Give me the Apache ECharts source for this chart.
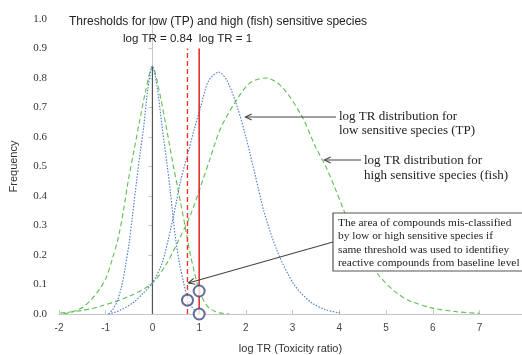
<!DOCTYPE html>
<html><head><meta charset="utf-8">
<script src="https://cdn.jsdelivr.net/npm/echarts@6/dist/echarts.min.js"></script>
<style>html,body{margin:0;padding:0;background:#fff}#c{width:522px;height:355px}</style>
</head><body><div id="c"></div>
<script>
// ---- data ----
const blueNarrow = [[-0.94,0],[-0.85,0.015],[-0.75,0.045],[-0.65,0.1],[-0.58,0.16],[-0.5,0.24],[-0.43,0.33],[-0.34,0.45],[-0.26,0.55],[-0.19,0.63],[-0.1,0.76],[0,0.84],[0.1,0.77],[0.21,0.63],[0.31,0.51],[0.38,0.42],[0.44,0.33],[0.5,0.25],[0.58,0.17],[0.67,0.105],[0.74,0.06],[0.82,0.03],[0.92,0.01],[1.02,0]];
const greenNarrow = [[-1.9,0],[-1.7,0.008],[-1.5,0.022],[-1.33,0.045],[-1.15,0.08],[-1.0,0.12],[-0.87,0.18],[-0.73,0.26],[-0.62,0.35],[-0.52,0.45],[-0.4,0.55],[-0.28,0.65],[-0.14,0.76],[0,0.84],[0.14,0.76],[0.3,0.63],[0.45,0.5],[0.6,0.38],[0.72,0.28],[0.8,0.21],[0.9,0.14],[1.0,0.08],[1.1,0.045],[1.2,0.022],[1.35,0.008],[1.5,0.002],[1.65,0]];
const blueWide = [[-0.94,0],[-0.7,0.012],[-0.4,0.04],[-0.2,0.07],[0,0.105],[0.2,0.17],[0.35,0.26],[0.5,0.37],[0.6,0.45],[0.75,0.54],[0.9,0.63],[1.03,0.7],[1.2,0.79],[1.42,0.82],[1.6,0.79],[1.82,0.7],[2.0,0.6],[2.2,0.47],[2.4,0.34],[2.68,0.21],[3.03,0.1],[3.39,0.04],[3.7,0.015],[4.03,0.003]];
const greenWide = [[-1.97,0.003],[-1.5,0.012],[-1.12,0.026],[-0.5,0.06],[0,0.105],[0.3,0.17],[0.56,0.25],[0.8,0.33],[1.07,0.45],[1.24,0.53],[1.46,0.63],[1.82,0.73],[2.1,0.785],[2.43,0.8],[2.77,0.77],[3.2,0.67],[3.48,0.57],[3.71,0.5],[3.9,0.43],[4.1,0.35],[4.4,0.24],[4.85,0.13],[5.2,0.075],[5.5,0.045],[6.0,0.02],[6.5,0.008],[7.0,0.002]];
const zeroLine = [[0,0],[0,0.84]];
const thresholdLow = [[0.75,0],[0.75,0.9]];   // dashed red
const thresholdHigh = [[1.0,0],[1.0,0.9]];    // solid red
const circles = [[0.75,0.047],[1.0,0.078],[1.0,0.0]];
const xTicks = [-2,-1,0,1,2,3,4,5,6,7];
const yTicks = [0,0.1,0.2,0.3,0.4,0.5,0.6,0.7,0.8,0.9,1.0];

const chart = echarts.init(document.getElementById('c'), null, {renderer:'canvas'});
const serif = '"Liberation Serif","DejaVu Serif",serif';
const sans = '"Liberation Sans",Arial,sans-serif';
const curve = (data, color, type) => ({type:'line', data, smooth:0.3, showSymbol:false, silent:true,
  lineStyle:{color, width:1.1, type}, z:3});
const option = {
  animation:false,
  grid:{left:59, right:0, top:19, bottom:41, containLabel:false, outerBoundsMode:'none'},
  xAxis:{type:'value', min:-2, max:7.91, interval:1,
    axisLine:{lineStyle:{color:'#c8c8c8'}},
    axisTick:{show:true, inside:true, length:4, lineStyle:{color:'#c8c8c8'}},
    splitLine:{show:false},
    axisLabel:{color:'#444', fontFamily:sans, fontSize:10, margin:9, showMaxLabel:false,
      formatter:v => xTicks.includes(Math.round(v*1000)/1000) ? String(v) : ''},
    name:'log TR (Toxicity ratio)', nameLocation:'middle', nameGap:29,
    nameTextStyle:{color:'#333', fontFamily:sans, fontSize:11}},
  yAxis:{type:'value', min:0, max:1, interval:0.1,
    axisLine:{show:true, lineStyle:{color:'#c8c8c8'}},
    axisTick:{show:true, length:4, lineStyle:{color:'#c8c8c8'}},
    splitLine:{show:false},
    axisLabel:{color:'#333', fontFamily:serif, fontSize:11, margin:12,
      formatter:v => yTicks.some(t=>Math.abs(t-v)<1e-6) ? v.toFixed(1) : ''},
    name:'Frequency', nameLocation:'middle', nameGap:40,
    nameTextStyle:{color:'#333', fontFamily:sans, fontSize:11}},
  series:[
    curve(greenNarrow,'#5fbf55',[5,3]),
    curve(greenWide,'#5fbf55',[5,3]),
    curve(blueNarrow,'#4a78d0',[1.5,1.5]),
    curve(blueWide,'#4a78d0',[1.5,1.5]),
    {type:'line', data:zeroLine, showSymbol:false, lineStyle:{color:'#555', width:1.2}, z:2},
    {type:'line', data:thresholdLow, showSymbol:false, lineStyle:{color:'#f03a30', width:1.4, type:[5,3]}, z:4},
    {type:'line', data:thresholdHigh, showSymbol:false, lineStyle:{color:'#e42222', width:1.5}, z:4},
    {type:'scatter', data:circles, symbol:'emptyCircle', symbolSize:11,
      itemStyle:{color:'#3b4a80', borderColor:'#3b4a80', borderWidth:1.2}, z:5}
  ]
};
chart.setOption(option);

const P = (x,y) => chart.convertToPixel({gridIndex:0},[x,y]);
function arrow(from, to){
  const [x1,y1]=from,[x2,y2]=to;
  const a=Math.atan2(y1-y2,x1-x2), L=7, w=0.45;
  return [
    {type:'line', shape:{x1,y1,x2,y2}, style:{stroke:'#444', lineWidth:1.1}, z:10},
    {type:'polyline', shape:{points:[[x2+L*Math.cos(a+w),y2+L*Math.sin(a+w)],[x2,y2],[x2+L*Math.cos(a-w),y2+L*Math.sin(a-w)]]},
      style:{stroke:'#444', lineWidth:1.1, fill:null}, z:10}
  ];
}
const txt = (x,y,text,font,size,extra) => Object.assign({type:'text', x, y, z:11,
  style:{text, fill:'#222', font:size+'px '+font, textVerticalAlign:'middle'}}, extra||{});

const a1 = P(1.99,0.668), a2 = P(3.68,0.522), a3 = P(0.77,0.105);
const graphic = [
  txt(69,22,'Thresholds for low (TP) and high (fish) sensitive species',sans,12),
  txt(123,39,'log TR = 0.84  log TR = 1',sans,11.5),
  ...arrow([336,a1[1]], a1),
  txt(339,117,'log TR distribution for',serif,13),
  txt(339,131,'low sensitive species (TP)',serif,13),
  ...arrow([361,a2[1]], a2),
  txt(364,161,'log TR distribution for',serif,13),
  txt(364,176,'high sensitive species (fish)',serif,13),
  ...arrow([333,242], a3),
  {type:'rect', shape:{x:333,y:213,width:192,height:58}, style:{fill:'#fff', stroke:'#555', lineWidth:1.2}, z:10},
  txt(338,223,'The area of compounds mis-classified',serif,11.4),
  txt(338,236,'by low or high sensitive species if',serif,11.4),
  txt(338,250,'same threshold was used to identifiey',serif,11.4),
  txt(338,263,'reactive compounds from baseline level',serif,11.4)
];
chart.setOption({graphic});
</script></body></html>
